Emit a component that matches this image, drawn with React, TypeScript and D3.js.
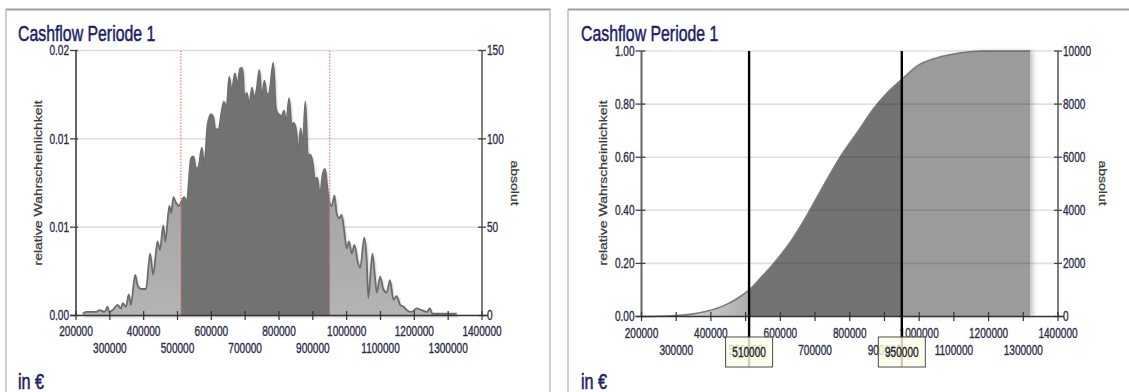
import React from "react";
import * as d3 from "d3";

// ---------- data ----------
const xTickValues = [200000, 300000, 400000, 500000, 600000, 700000, 800000, 900000, 1000000, 1100000, 1200000, 1300000, 1400000];
const markerValues = [510000, 950000];
const sampleCount = 10000;

// histogram (left chart): cashflow value (€) and absolute frequency
const histValues = [220000, 230000, 245000, 260000, 270000, 285000, 293000, 298000, 308000, 323000, 333000, 338000, 348000, 356000, 362000, 375000, 382000, 392000, 407000, 419000, 428000, 441000, 448000, 458000, 464000, 476000, 481000, 488000, 495000, 505000, 510000, 520000, 527000, 540000, 547000, 555000, 562000, 572000, 579000, 589000, 599000, 606000, 611000, 621000, 630000, 637000, 645000, 653000, 660000, 670000, 677000, 685000, 692000, 698000, 705000, 712000, 720000, 727000, 734000, 742000, 749000, 757000, 764000, 771000, 783000, 791000, 798000, 808000, 815000, 821000, 830000, 837000, 844000, 852000, 857000, 864000, 870000, 878000, 885000, 892000, 900000, 906000, 913000, 921000, 929000, 936000, 943000, 949000, 956000, 964000, 970000, 978000, 985000, 992000, 1000000, 1007000, 1015000, 1023000, 1033000, 1040000, 1052000, 1059000, 1064000, 1076000, 1084000, 1089000, 1099000, 1108000, 1118000, 1128000, 1138000, 1148000, 1158000, 1168000, 1178000, 1192000, 1207000, 1222000, 1237000, 1246000, 1253000, 1270000, 1290000, 1310000, 1325000];
const histCounts = [1, 2, 2, 2, 3, 2, 5, 2, 3, 6, 4, 7, 5, 12, 6, 23, 17, 15, 15, 35, 23, 42, 37, 51, 42, 62, 58, 67, 64, 62, 64, 67, 64, 89, 90, 83, 84, 95, 85, 108, 114, 112, 106, 105, 115, 121, 118, 135, 127, 137, 130, 140, 140, 123, 126, 119, 129, 123, 128, 139, 123, 133, 125, 126, 143, 117, 114, 113, 116, 109, 123, 108, 109, 103, 91, 106, 96, 121, 91, 91, 86, 77, 78, 68, 80, 83, 72, 64, 62, 68, 58, 55, 57, 49, 38, 42, 35, 40, 30, 27, 44, 32, 10, 35, 21, 13, 22, 15, 13, 20, 9, 11, 6, 5, 3, 2, 4, 3, 2, 4, 1, 1, 1, 1, 1];
const histRelTicks = [0, 0.005, 0.01, 0.015];
const histRelLabels = ["0.00", "0.01", "0.01", "0.02"];
const histAbsTicks = [0, 50, 100, 150];

// cumulative distribution (right chart)
const cdfValues = [200000, 250000, 300000, 340000, 388000, 436000, 475000, 510000, 543000, 581000, 630000, 678000, 726000, 774000, 825000, 870000, 910000, 950000, 996000, 1045000, 1093000, 1141000, 1190000, 1320000];
const cdfShares = [0, 0.001, 0.004, 0.008, 0.02, 0.04, 0.067, 0.1, 0.145, 0.2, 0.283, 0.384, 0.497, 0.604, 0.7, 0.785, 0.845, 0.893, 0.945, 0.972, 0.987, 0.996, 1, 1];
const cdfRelTicks = [0, 0.2, 0.4, 0.6, 0.8, 1];
const cdfAbsTicks = [0, 2000, 4000, 6000, 8000, 10000];

// ---------- helpers ----------
const SX = 0.72;
const FONT = "'Liberation Sans', Arial, sans-serif";
const TICK_COLOR = "#2b2b48";
const NAVY = "#1c1c68";

function T(props: {
  x: number; y: number; anchor?: string; size?: number; fill?: string; rotate?: number; dy?: string; children: any; bold?: number;
}) {
  const { x, y, anchor = "start", size = 14, fill = TICK_COLOR, rotate = 0, dy, children, bold = 0.35 } = props;
  return (
    <text
      transform={`translate(${x},${y}) scale(${SX},1)${rotate ? ` rotate(${rotate})` : ""}`}
      textAnchor={anchor as any}
      fontSize={size}
      fill={fill}
      stroke={fill}
      strokeWidth={bold}
      fontFamily={FONT}
      dy={dy}
    >
      {children}
    </text>
  );
}

function Frame({ x0, x1 }: { x0: number; x1: number }) {
  return (
    <g>
      <line x1={x0} x2={x1} y1={9.5} y2={9.5} stroke="#9e9e9e" strokeWidth={2} />
      <line x1={x0} x2={x0} y1={9} y2={392} stroke="#b0b0b0" strokeWidth={1.2} />
      <line x1={x1} x2={x1} y1={9} y2={392} stroke="#b0b0b0" strokeWidth={1.2} />
    </g>
  );
}

function XAxis({ x, yBase, row1, row2 }: { x: d3.ScaleLinear<number, number>; yBase: number; row1: number; row2: number }) {
  const [r0, r1] = x.range();
  return (
    <g>
      <line x1={r0 - 6} x2={r1 + 6} y1={yBase} y2={yBase} stroke="#333" strokeWidth={1.5} />
      {xTickValues.map((v) => (
        <line key={"t" + v} x1={x(v)} x2={x(v)} y1={yBase - 4.5} y2={yBase + 4.5} stroke="#333" strokeWidth={1.2} />
      ))}
      {xTickValues.map((v, i) => (
        <T key={"l" + v} x={x(v)} y={i % 2 === 0 ? row1 : row2} anchor="middle">
          {String(v)}
        </T>
      ))}
    </g>
  );
}

// ---------- left panel: histogram ----------
function HistogramPanel() {
  const x = d3.scaleLinear().domain([200000, 1400000]).range([76, 482]);
  const yAbs = d3.scaleLinear().domain([0, 150]).range([315.5, 50.5]);
  const yRel = d3.scaleLinear().domain([0, 0.015]).range([315.5, 50.5]);
  const data = histValues.map((v, i) => ({ v, c: histCounts[i] }));
  const area = d3
    .area<{ v: number; c: number }>()
    .x((d) => x(d.v))
    .y0(yAbs(0))
    .y1((d) => yAbs(d.c))
    .curve(d3.curveMonotoneX);
  const line = d3
    .line<{ v: number; c: number }>()
    .x((d) => x(d.v))
    .y((d) => yAbs(d.c))
    .curve(d3.curveMonotoneX);
  const [left, right] = x.range();
  const mx0 = x(markerValues[0]);
  const mx1 = x(markerValues[1]);
  return (
    <g>
      <defs>
        <linearGradient id="histLight" x1="0" y1="0" x2="0" y2="1">
          <stop offset="0" stopColor="#959595" />
          <stop offset="1" stopColor="#b4b4b4" />
        </linearGradient>
        <clipPath id="histMid">
          <rect x={mx0} y={0} width={mx1 - mx0} height={400} />
        </clipPath>
        <filter id="histShadow" x="-5%" y="-5%" width="110%" height="110%">
          <feDropShadow dx="1.5" dy="1.5" stdDeviation="1.2" floodColor="#000" floodOpacity="0.25" />
        </filter>
      </defs>
      <Frame x0={6} x1={550} />
      <T x={18} y={41} size={22} fill={NAVY} bold={0.5}>Cashflow Periode 1</T>
      {histRelTicks.slice(1).map((t) => (
        <line key={t} x1={left} x2={right} y1={yRel(t)} y2={yRel(t)} stroke="#e0e0e0" strokeWidth={1.6} />
      ))}
      <g filter="url(#histShadow)">
        <path d={area(data) || ""} fill="url(#histLight)" />
      </g>
      <path d={line(data) || ""} fill="none" stroke="#6c6c6c" strokeWidth={1.8} />
      <path d={area(data) || ""} fill="#727272" clipPath="url(#histMid)" />
      {markerValues.map((m) => (
        <line key={m} x1={x(m)} x2={x(m)} y1={50.5} y2={315.5} stroke="#f07a6a" strokeWidth={1.2} strokeDasharray="1.5,1.5" />
      ))}
      {/* left axis */}
      <line x1={left} x2={left} y1={50.5} y2={315.5} stroke="#666" strokeWidth={2} />
      {histRelTicks.map((t, i) => (
        <g key={"rl" + i}>
          <line x1={left - 6} x2={left + 2} y1={yRel(t)} y2={yRel(t)} stroke="#444" strokeWidth={1.3} />
          <T x={left - 7} y={yRel(t)} anchor="end" dy="0.35em">{histRelLabels[i]}</T>
        </g>
      ))}
      {/* right axis */}
      <line x1={right} x2={right} y1={50.5} y2={315.5} stroke="#555" strokeWidth={1.5} />
      {histAbsTicks.map((t) => (
        <g key={"ra" + t}>
          <line x1={right - 4} x2={right + 4} y1={yAbs(t)} y2={yAbs(t)} stroke="#444" strokeWidth={1.3} />
          <T x={right + 5} y={yAbs(t)} dy="0.35em">{String(t)}</T>
        </g>
      ))}
      <XAxis x={x} yBase={315.5} row1={336} row2={353} />
      <T x={42} y={183} anchor="middle" rotate={-90} size={14} fill="#3c3c3c">relative Wahrscheinlichkeit</T>
      <T x={511} y={183} anchor="middle" rotate={90} size={14} fill="#3c3c3c">absolut</T>
      <T x={18} y={389} size={22.5} fill={NAVY} bold={0.6}>in €</T>
    </g>
  );
}

// ---------- right panel: cumulative ----------
function CumulativePanel() {
  const x = d3.scaleLinear().domain([200000, 1400000]).range([641.5, 1058]);
  const yRel = d3.scaleLinear().domain([0, 1]).range([316.5, 51]);
  const yAbs = d3.scaleLinear().domain([0, sampleCount]).range([316.5, 51]);
  const data = cdfValues.map((v, i) => ({ v, s: cdfShares[i] }));
  const area = d3
    .area<{ v: number; s: number }>()
    .x((d) => x(d.v))
    .y0(yRel(0))
    .y1((d) => yRel(d.s))
    .curve(d3.curveMonotoneX);
  const line = d3
    .line<{ v: number; s: number }>()
    .x((d) => x(d.v))
    .y((d) => yRel(d.s))
    .curve(d3.curveMonotoneX);
  const [left, right] = x.range();
  const mx0 = x(markerValues[0]);
  const mx1 = x(markerValues[1]);
  return (
    <g>
      <defs>
        <linearGradient id="cdfLeft" x1={left} y1="0" x2={mx0} y2="0" gradientUnits="userSpaceOnUse">
          <stop offset="0" stopColor="#ececec" />
          <stop offset="1" stopColor="#adadad" />
        </linearGradient>
        <clipPath id="cdfL"><rect x={0} y={0} width={mx0} height={400} /></clipPath>
        <clipPath id="cdfM"><rect x={mx0} y={0} width={mx1 - mx0} height={400} /></clipPath>
        <clipPath id="cdfR"><rect x={mx1} y={0} width={600} height={400} /></clipPath>
        <filter id="cdfShadow" x="-5%" y="-5%" width="110%" height="110%">
          <feDropShadow dx="3" dy="0" stdDeviation="2" floodColor="#000" floodOpacity="0.22" />
        </filter>
      </defs>
      <Frame x0={568} x1={1140} />
      <T x={581} y={41} size={22} fill={NAVY} bold={0.5}>Cashflow Periode 1</T>
      <g filter="url(#cdfShadow)">
        <path d={area(data) || ""} fill="#9b9b9b" clipPath="url(#cdfR)" />
      </g>
      <path d={area(data) || ""} fill="url(#cdfLeft)" clipPath="url(#cdfL)" />
      <path d={area(data) || ""} fill="#737373" clipPath="url(#cdfM)" />
      <path d={line(data) || ""} fill="none" stroke="#7a7a7a" strokeWidth={1.6} />
      {cdfRelTicks.slice(1).map((t) => (
        <line key={t} x1={left} x2={right} y1={yRel(t)} y2={yRel(t)} stroke="rgba(0,0,0,0.12)" strokeWidth={1.6} />
      ))}
      {/* left axis */}
      <line x1={left} x2={left} y1={51} y2={316.5} stroke="#666" strokeWidth={2} />
      {cdfRelTicks.map((t) => (
        <g key={"rl" + t}>
          <line x1={left - 6} x2={left + 4} y1={yRel(t)} y2={yRel(t)} stroke="#444" strokeWidth={1.3} />
          <T x={left - 7} y={yRel(t)} anchor="end" dy="0.35em">{t.toFixed(2)}</T>
        </g>
      ))}
      {/* right axis */}
      <line x1={right} x2={right} y1={51} y2={316.5} stroke="#555" strokeWidth={1.5} />
      {cdfAbsTicks.map((t) => (
        <g key={"ra" + t}>
          <line x1={right - 4} x2={right + 4} y1={yAbs(t)} y2={yAbs(t)} stroke="#444" strokeWidth={1.3} />
          <T x={right + 5} y={yAbs(t)} dy="0.35em">{String(t)}</T>
        </g>
      ))}
      <XAxis x={x} yBase={316.5} row1={338} row2={355} />
      {markerValues.map((m) => (
        <line key={"m" + m} x1={x(m)} x2={x(m)} y1={51} y2={367} stroke="#000" strokeWidth={2.4} />
      ))}
      {markerValues.map((m) => (
        <g key={"b" + m}>
          <rect x={x(m) - 23.5} y={337} width={47} height={30} fill="#fdfde6" fillOpacity={0.82} stroke="#4a4a4a" strokeWidth={1} />
          <T x={x(m)} y={352} anchor="middle" dy="0.35em" fill="#222">{String(m)}</T>
        </g>
      ))}
      <T x={607} y={183} anchor="middle" rotate={-90} size={14} fill="#3c3c3c">relative Wahrscheinlichkeit</T>
      <T x={1099} y={183} anchor="middle" rotate={90} size={14} fill="#3c3c3c">absolut</T>
      <T x={581} y={389} size={22.5} fill={NAVY} bold={0.6}>in €</T>
    </g>
  );
}

export default function App() {
  return (
    <svg
      width={1129}
      height={392}
      viewBox="0 0 1129 392"
      style={{ position: "absolute", left: 0, top: 0, background: "#fff" }}
    >
      <rect x={0} y={0} width={1129} height={392} fill="#fff" />
      <HistogramPanel />
      <CumulativePanel />
    </svg>
  );
}
